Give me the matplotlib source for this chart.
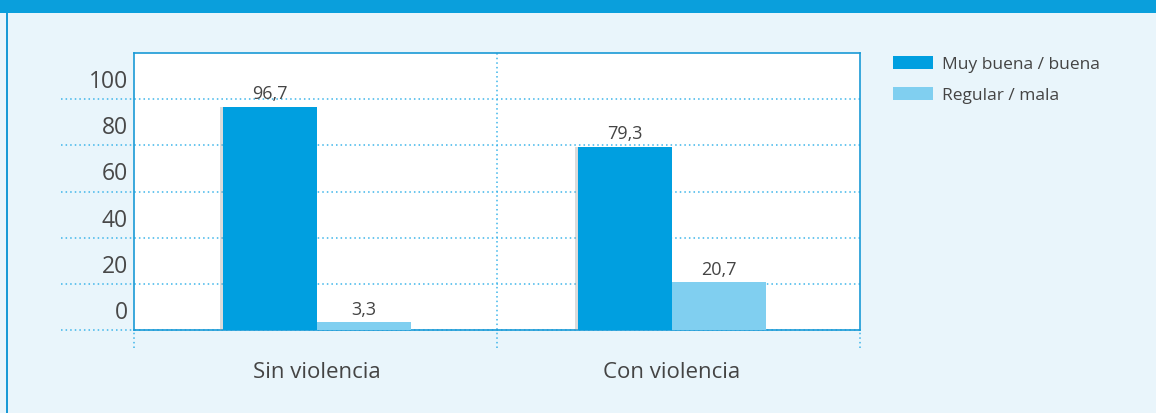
import matplotlib
matplotlib.use("Agg")
import matplotlib.pyplot as plt
import matplotlib.transforms as mtransforms
from matplotlib.patches import Rectangle
import matplotlib.patheffects as pe
import numpy as np

categories = ["Sin violencia", "Con violencia"]
series_names = ["Muy buena / buena", "Regular / mala"]
muy_buena = [96.7, 79.3]
regular_mala = [3.3, 20.7]
yticks = [0, 20, 40, 60, 80, 100]

W, H = 1156, 413
fig = plt.figure(figsize=(W / 100, H / 100), dpi=100)
fig.patch.set_facecolor("#e9f5fb")

plt.rcParams['font.family'] = ['Open Sans', 'DejaVu Sans']

# top band and left border
fig.add_artist(Rectangle((0, 1 - 13 / H), 1, 13 / H, transform=fig.transFigure,
                         facecolor="#0a9fdc", edgecolor="none", zorder=0))
fig.add_artist(Rectangle((6 / W, 0), 1.5 / W, 1 - 13 / H, transform=fig.transFigure,
                         facecolor="#1a9ad6", edgecolor="none", zorder=0))

ax = fig.add_axes([134 / W, 83 / H, 726 / W, 277 / H])
ax.set_facecolor("white")
for s in ax.spines.values():
    s.set_color("#1a9ad6")
    s.set_linewidth(1.2)

x = np.arange(len(categories))
w = 0.265
dark = "#009fe0"
light = "#80cff0"
shadow = [pe.SimplePatchShadow(offset=(-2, 0), shadow_rgbFace="#999999", alpha=0.35), pe.Normal()]
b1 = ax.bar(x - w / 2, muy_buena, w, color=dark, zorder=3, label=series_names[0],
            path_effects=shadow)
b2 = ax.bar(x + w / 2, regular_mala, w, color=light, zorder=3, label=series_names[1])

ax.set_xlim(-0.515, 1.53)
ax.set_ylim(0, 120)
ax.set_xticks([])
ax.set_yticks([])

grid_c = "#3db5ea"
trans = mtransforms.blended_transform_factory(ax.transAxes, ax.transData)
for v in yticks:
    ax.plot([-0.1, 1.0], [v, v], transform=trans, color=grid_c, lw=1.1,
            ls=(0, (1, 2)), clip_on=False, zorder=1)
    off = mtransforms.offset_copy(trans, fig=fig, x=-6, y=17, units='dots')
    ax.text(0, v, str(v), transform=off, ha="right", va="center",
            fontsize=16.5, color="#484848")

# vertical dotted lines (axes coordinates)
for xv, top in [(0.0, 0), (0.5, 1.0), (1.0, 0)]:
    ax.plot([xv, xv], [-18 / 277, top], transform=ax.transAxes, color=grid_c, lw=1.1,
            ls=(0, (1, 2)), clip_on=False, zorder=1)

# value labels
for bars, vals in [(b1, muy_buena), (b2, regular_mala)]:
    for b, v in zip(bars, vals):
        ax.text(b.get_x() + b.get_width() / 2, v + 1.5, f"{v:.1f}".replace(".", ","),
                ha="center", va="bottom", fontsize=13, color="#444444", zorder=4)

# category labels
transv = mtransforms.blended_transform_factory(ax.transData, ax.transAxes)
for xi, c in zip(x, categories):
    off = mtransforms.offset_copy(transv, fig=fig, x=0, y=-43, units='dots')
    ax.text(xi, 0, c, transform=off, ha="center", va="center",
            fontsize=16, color="#444444")

leg = fig.legend(handles=[b1, b2], labels=series_names, loc="upper left",
                 bbox_to_anchor=(893 / W, 1 - 56 / H), frameon=False,
                 borderaxespad=0, borderpad=0,
                 fontsize=12.5, handlelength=2.3, handleheight=0.8,
                 labelspacing=0.82, handletextpad=0.55, labelcolor="#444444")
for h in leg.legend_handles:
    h.set_path_effects([])

fig.savefig("out.png", dpi=100, facecolor=fig.get_facecolor())
